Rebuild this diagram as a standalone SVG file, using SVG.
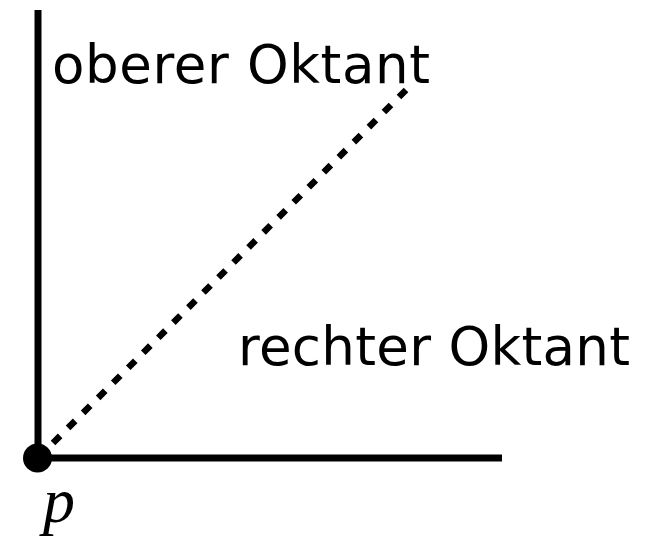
<svg xmlns="http://www.w3.org/2000/svg" width="649" height="542" viewBox="0 0 649 542">
<style>
.axis{stroke:#000;stroke-width:7;fill:none}
.diag{stroke:#000;stroke-width:6.5;fill:none;stroke-dasharray:10 11.27}
.lbl{font-family:"DejaVu Sans","Liberation Sans",sans-serif;font-size:53px;fill:#000}
.p{font-family:"Liberation Serif","DejaVu Serif",serif;font-style:italic;font-size:64px;fill:#000}
</style>
<g id="connectors">
<line class="axis" x1="38" y1="10" x2="38" y2="458"/>
<line class="axis" x1="38" y1="458" x2="502" y2="458"/>
<line class="diag" x1="38" y1="458" x2="407" y2="89"/>
</g>
<g id="point-p">
<circle cx="37.5" cy="458" r="14.5" fill="#000"/>
<text class="p" x="43" y="522">p</text>
</g>
<g id="label-oberer">
<text class="lbl" x="52" y="83" textLength="378" lengthAdjust="spacing">oberer Oktant</text>
</g>
<g id="label-rechter">
<text class="lbl" x="238" y="365" textLength="392" lengthAdjust="spacing">rechter Oktant</text>
</g>
</svg>
